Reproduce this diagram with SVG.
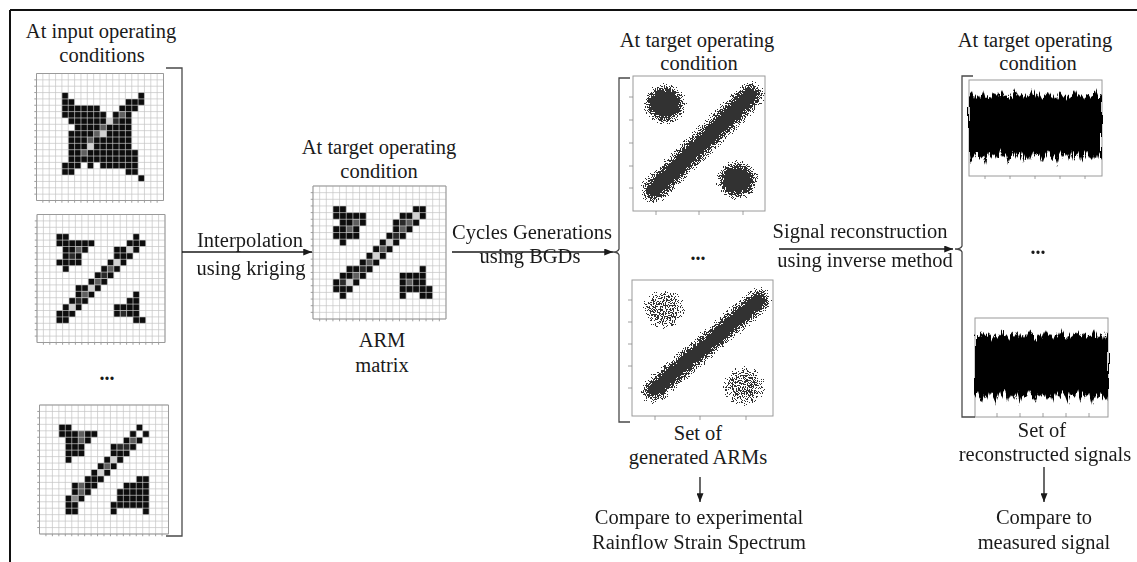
<svg xmlns="http://www.w3.org/2000/svg" xmlns:xlink="http://www.w3.org/1999/xlink" width="1137" height="562" viewBox="0 0 1137 562">
<style>
text{font-family:"Liberation Serif","Times New Roman",serif;font-size:20.5px;fill:#1a1a1a;text-anchor:middle}
.dots{font-weight:bold;font-size:20px}
.k{fill:#0d0d0d}.d{fill:#2a2a2a}.g{fill:#606060}.m{fill:#8a8a8a}.l{fill:#d2d2d2}
.gl{fill:none;stroke:#c4c4c4;stroke-width:0.7;vector-effect:non-scaling-stroke}
.bd{fill:none;stroke:#9a9a9a;stroke-width:1;vector-effect:non-scaling-stroke}
.tk{fill:none;stroke:#888;stroke-width:0.8;vector-effect:non-scaling-stroke}
.bg{fill:#fff}
.br{fill:none;stroke:#4a4a4a;stroke-width:1.3}
.ar{fill:none;stroke:#1a1a1a;stroke-width:1.3;marker-end:url(#ah)}
.box{fill:#fff;stroke:#9a9a9a;stroke-width:1}
.sig{fill:#050505}
.frame{fill:none;stroke:#111;stroke-width:2}
</style>
<defs>
<marker id="ah" viewBox="0 0 10 8" refX="10" refY="4" markerWidth="9" markerHeight="7" orient="auto" markerUnits="userSpaceOnUse"><path d="M0 0L10 4L0 8z" fill="#1a1a1a"/></marker>
<path id="gl" class="gl" d="M0 0H20M0 1H20M0 2H20M0 3H20M0 4H20M0 5H20M0 6H20M0 7H20M0 8H20M0 9H20M0 10H20M0 11H20M0 12H20M0 13H20M0 14H20M0 15H20M0 16H20M0 17H20M0 18H20M0 19H20M0 20H20M0 0V20M1 0V20M2 0V20M3 0V20M4 0V20M5 0V20M6 0V20M7 0V20M8 0V20M9 0V20M10 0V20M11 0V20M12 0V20M13 0V20M14 0V20M15 0V20M16 0V20M17 0V20M18 0V20M19 0V20M20 0V20"/>
<path id="tk" class="tk" d="M-0.35 1H0M-0.35 2H0M-0.35 3H0M-0.35 4H0M-0.35 5H0M-0.35 6H0M-0.35 7H0M-0.35 8H0M-0.35 9H0M-0.35 10H0M-0.35 11H0M-0.35 12H0M-0.35 13H0M-0.35 14H0M-0.35 15H0M-0.35 16H0M-0.35 17H0M-0.35 18H0M-0.35 19H0M1 20V20.35M2 20V20.35M3 20V20.35M4 20V20.35M5 20V20.35M6 20V20.35M7 20V20.35M8 20V20.35M9 20V20.35M10 20V20.35M11 20V20.35M12 20V20.35M13 20V20.35M14 20V20.35M15 20V20.35M16 20V20.35M17 20V20.35M18 20V20.35M19 20V20.35"/>
<filter id="speck" filterUnits="userSpaceOnUse" x="634" y="77" width="138" height="338">
<feGaussianBlur in="SourceAlpha" stdDeviation="4.5" result="b"/>
<feTurbulence type="fractalNoise" baseFrequency="0.9" numOctaves="2" seed="4" result="n"/>
<feColorMatrix in="n" type="matrix" values="0 0 0 0 0 0 0 0 0 0 0 0 0 0 0 3 0 0 0 -1" result="na"/>
<feComposite in="b" in2="na" operator="arithmetic" k1="0" k2="1.2" k3="0.8" k4="-0.9" result="c"/>
<feComponentTransfer in="c" result="t"><feFuncA type="discrete" tableValues="0 1 1 1 1 1 1 1 1 1"/></feComponentTransfer>
<feFlood flood-color="#303030"/>
<feComposite operator="in" in2="t"/>
</filter>
<filter id="jag" filterUnits="userSpaceOnUse" x="960" y="70" width="160" height="360">
<feTurbulence type="fractalNoise" baseFrequency="0.5 0.04" numOctaves="2" seed="7" result="n"/>
<feDisplacementMap in="SourceGraphic" in2="n" scale="9" xChannelSelector="B" yChannelSelector="R"/>
</filter>
<path id="sigp" d="M969 96L972 92 974 99 977 94 980 98 983 90 985 97 988 95 991 99 994 93 997 97 1000 91 1003 98 1006 94 1009 100 1012 96 1015 89 1018 97 1021 92 1024 99 1027 94 1030 97 1033 90 1036 98 1039 93 1042 99 1045 95 1048 91 1051 98 1054 94 1057 100 1060 92 1063 97 1066 93 1069 99 1072 95 1075 90 1078 98 1081 94 1084 99 1087 92 1090 97 1093 95 1096 90 1099 98 1102 94L1102 158 1099 152 1096 163 1093 155 1090 160 1087 151 1084 157 1081 164 1078 153 1075 158 1072 150 1069 161 1066 154 1063 159 1060 152 1057 165 1054 155 1051 158 1048 150 1045 156 1042 162 1039 153 1036 157 1033 151 1030 160 1027 154 1024 163 1021 152 1018 158 1015 151 1012 156 1009 164 1006 153 1003 157 1000 150 997 161 994 154 991 158 988 152 985 165 982 155 979 159 976 151 973 157 970 162 969 155Z"/>
</defs>

<path class="frame" d="M10 10H1137M10 10V562"/>

<g id="node-input-matrices">
<text x="101" y="38">At input operating</text>
<text x="102" y="62">conditions</text>
<g id="matrix-1" transform="translate(36.5,73.5) scale(6.35)">
<rect class="bg" width="20" height="20"/>
<path class="k" d="M4 3h1v1h-1zM16 3h1v1h-1zM4 4h2v1h-2zM14 4h3v1h-3zM4 5h6v1h-6zM13 5h3v1h-3zM4 6h7v1h-7zM12 6h1v1h-1zM14 6h1v1h-1zM5 7h6v1h-6zM13 7h2v1h-2zM6 8h4v1h-4zM11 8h4v1h-4zM5 9h4v1h-4zM11 9h4v1h-4zM5 10h3v1h-3zM9 10h6v1h-6zM5 11h3v1h-3zM9 11h6v1h-6zM5 12h2v1h-2zM8 12h8v1h-8zM5 13h11v1h-11zM4 14h3v1h-3zM8 14h1v1h-1zM10 14h6v1h-6zM4 15h2v1h-2zM14 15h2v1h-2zM16 16h1v1h-1z"/>
<path class="g" d="M13 6h1v1h-1zM10 8h1v1h-1zM9 9h1v1h-1zM8 10h1v1h-1zM7 12h1v1h-1z"/>
<path class="d" d="M12 7h1v1h-1z"/>
<path class="l" d="M11 7h1v1h-1zM10 9h1v1h-1zM8 11h1v1h-1z"/>
<use xlink:href="#gl"/><use xlink:href="#tk"/>
<rect class="bd" width="20" height="20"/>
</g>
<g id="matrix-2" transform="translate(37,214.5) scale(6.4)">
<rect class="bg" width="20" height="20"/>
<path class="k" d="M3 3h2v1h-2zM15 3h1v1h-1zM3 4h6v1h-6zM14 4h3v1h-3zM4 5h2v1h-2zM7 5h1v1h-1zM12 5h2v1h-2zM15 5h1v1h-1zM4 6h1v1h-1zM6 6h1v1h-1zM12 6h3v1h-3zM3 7h4v1h-4zM11 7h1v1h-1zM13 7h1v1h-1zM4 8h1v1h-1zM10 8h1v1h-1zM12 8h1v1h-1zM9 9h1v1h-1zM11 9h1v1h-1zM8 10h1v1h-1zM10 10h1v1h-1zM6 11h2v1h-2zM9 11h1v1h-1zM6 12h1v1h-1zM8 12h1v1h-1zM15 12h1v1h-1zM5 13h1v1h-1zM7 13h1v1h-1zM14 13h2v1h-2zM4 14h1v1h-1zM6 14h1v1h-1zM12 14h4v1h-4zM3 15h3v1h-3zM12 15h1v1h-1zM14 15h2v1h-2zM3 16h2v1h-2zM15 16h2v1h-2z"/>
<path class="g" d="M6 5h1v1h-1zM11 8h1v1h-1zM9 10h1v1h-1zM7 12h1v1h-1z"/>
<path class="d" d="M5 6h1v1h-1zM10 9h1v1h-1zM6 13h1v1h-1zM13 15h1v1h-1z"/>
<path class="l" d="M14 5h1v1h-1zM12 7h1v1h-1zM8 11h1v1h-1zM5 14h1v1h-1z"/>
<use xlink:href="#gl"/><use xlink:href="#tk"/>
<rect class="bd" width="20" height="20"/>
</g>
<text class="dots" x="107" y="380">...</text>
<g id="matrix-3" transform="translate(39.5,405) scale(6.45)">
<rect class="bg" width="20" height="20"/>
<path class="k" d="M3 3h2v1h-2zM15 3h1v1h-1zM3 4h3v1h-3zM7 4h2v1h-2zM14 4h1v1h-1zM16 4h1v1h-1zM4 5h2v1h-2zM7 5h1v1h-1zM13 5h1v1h-1zM15 5h1v1h-1zM4 6h3v1h-3zM11 6h1v1h-1zM14 6h1v1h-1zM4 7h3v1h-3zM11 7h3v1h-3zM4 8h1v1h-1zM10 8h1v1h-1zM12 8h1v1h-1zM9 9h1v1h-1zM11 9h1v1h-1zM8 10h1v1h-1zM10 10h1v1h-1zM7 11h3v1h-3zM15 11h2v1h-2zM5 12h1v1h-1zM7 12h2v1h-2zM13 12h4v1h-4zM5 13h1v1h-1zM7 13h1v1h-1zM12 13h5v1h-5zM4 14h1v1h-1zM6 14h1v1h-1zM12 14h5v1h-5zM4 15h2v1h-2zM11 15h6v1h-6zM4 16h2v1h-2zM11 16h1v1h-1zM16 16h1v1h-1z"/>
<path class="g" d="M6 4h1v1h-1zM6 5h1v1h-1zM14 5h1v1h-1zM10 9h1v1h-1zM6 12h1v1h-1zM6 13h1v1h-1z"/>
<path class="d" d="M12 6h2v1h-2z"/>
<path class="m" d="M5 14h1v1h-1z"/>
<path class="l" d="M11 8h1v1h-1zM9 10h1v1h-1z"/>
<use xlink:href="#gl"/><use xlink:href="#tk"/>
<rect class="bd" width="20" height="20"/>
</g>
<path class="br" d="M166 68H182V536H166"/>
</g>

<g id="node-arm">
<text x="379" y="154">At target operating</text>
<text x="379" y="178">condition</text>
<g id="matrix-arm" transform="translate(313,186) scale(6.65)">
<rect class="bg" width="20" height="20"/>
<path class="k" d="M3 3h2v1h-2zM15 3h2v1h-2zM3 4h5v1h-5zM13 4h2v1h-2zM16 4h1v1h-1zM4 5h2v1h-2zM7 5h1v1h-1zM12 5h1v1h-1zM15 5h1v1h-1zM3 6h2v1h-2zM6 6h1v1h-1zM12 6h1v1h-1zM14 6h1v1h-1zM3 7h4v1h-4zM11 7h1v1h-1zM13 7h1v1h-1zM4 8h1v1h-1zM10 8h1v1h-1zM12 8h1v1h-1zM9 9h1v1h-1zM11 9h1v1h-1zM8 10h1v1h-1zM10 10h1v1h-1zM7 11h1v1h-1zM9 11h1v1h-1zM5 12h2v1h-2zM8 12h1v1h-1zM16 12h1v1h-1zM4 13h2v1h-2zM7 13h1v1h-1zM13 13h4v1h-4zM3 14h1v1h-1zM6 14h1v1h-1zM13 14h1v1h-1zM15 14h2v1h-2zM3 15h3v1h-3zM13 15h5v1h-5zM4 16h1v1h-1zM13 16h1v1h-1zM16 16h2v1h-2z"/>
<path class="g" d="M6 5h1v1h-1zM14 5h1v1h-1zM5 6h1v1h-1zM13 6h1v1h-1zM10 9h1v1h-1zM8 11h1v1h-1zM6 13h1v1h-1zM14 14h1v1h-1z"/>
<path class="d" d="M13 5h1v1h-1zM12 7h1v1h-1zM7 12h1v1h-1zM4 14h1v1h-1z"/>
<path class="l" d="M15 4h1v1h-1zM11 8h1v1h-1zM9 10h1v1h-1zM5 14h1v1h-1z"/>
<use xlink:href="#gl"/><use xlink:href="#tk"/>
<rect class="bd" width="20" height="20"/>
</g>
<text x="382" y="347">ARM</text>
<text x="382" y="372">matrix</text>
</g>

<g id="node-generated-arms">
<text x="697" y="47">At target operating</text>
<text x="699" y="70">condition</text>
<rect class="box" x="633" y="76" width="132" height="135"/>
<path class="tk" d="M629 97H633M629 120H633M629 143H633M629 166H633M629 188H633M656 211V215M699 211V215M743 211V215"/>
<rect class="box" x="632" y="280" width="141" height="136"/>
<path class="tk" d="M628 300H632M628 322H632M628 344H632M628 366H632M628 388H632M655 416V420M700 416V420M746 416V420"/>
<g filter="url(#speck)">
<ellipse cx="665" cy="104" rx="18" ry="17"/>
<line x1="654" y1="190" x2="751" y2="95" stroke="#000" stroke-width="21" stroke-linecap="round"/>
<ellipse cx="737" cy="180" rx="18" ry="16"/>
<ellipse cx="664" cy="309" rx="20" ry="18" fill-opacity="0.5"/>
<line x1="653" y1="391" x2="759" y2="300" stroke="#000" stroke-width="19" stroke-linecap="round"/>
<ellipse cx="744" cy="386" rx="20" ry="18" fill-opacity="0.5"/>
</g>
<text class="dots" x="698" y="260">...</text>
<path class="br" d="M630 78H619V249Q618 252 613 252Q618 252 619 255V422H630"/>
<text x="698" y="440">Set of</text>
<text x="698" y="464">generated ARMs</text>
</g>

<g id="node-signals">
<text x="1035" y="47">At target operating</text>
<text x="1038" y="70">condition</text>
<rect class="box" x="969" y="80" width="133" height="96" stroke="#c0c0c0"/>
<path class="tk" d="M985 176V179M1010 176V179M1035 176V179M1060 176V179M1085 176V179"/>
<rect class="box" x="975" y="318" width="133" height="99" stroke="#b0b0b0"/>
<path class="tk" d="M997 417V413M1020 417V413M1043 417V413M1066 417V413M1089 417V413"/>
<g filter="url(#jag)">
<use xlink:href="#sigp" class="sig"/>
<use xlink:href="#sigp" class="sig" transform="translate(2077,240) scale(-1,1)"/>
</g>
<text class="dots" x="1038" y="254">...</text>
<path class="br" d="M973 76H962V246Q961 249 955 249Q961 249 962 252V417H975"/>
<text x="1042" y="437">Set of</text>
<text x="1045" y="461">reconstructed signals</text>
</g>

<g id="node-compare-arms">
<text x="699" y="524">Compare to experimental</text>
<text x="699" y="549">Rainflow Strain Spectrum</text>
</g>
<g id="node-compare-signal">
<text x="1044" y="524">Compare to</text>
<text x="1044" y="549">measured signal</text>
</g>

<g id="connectors">
<path class="ar" d="M182 252H312"/>
<text x="250" y="247">Interpolation</text>
<text x="251" y="275">using kriging</text>
<path class="ar" d="M452 252H613"/>
<text x="532" y="239">Cycles Generations</text>
<text x="530" y="263">using BGDs</text>
<path class="ar" d="M779 249H953"/>
<text x="860" y="238">Signal reconstruction</text>
<text x="865" y="267">using inverse method</text>
<path class="ar" d="M700 477V502"/>
<path class="ar" d="M1044 467V502"/>
</g>
</svg>
